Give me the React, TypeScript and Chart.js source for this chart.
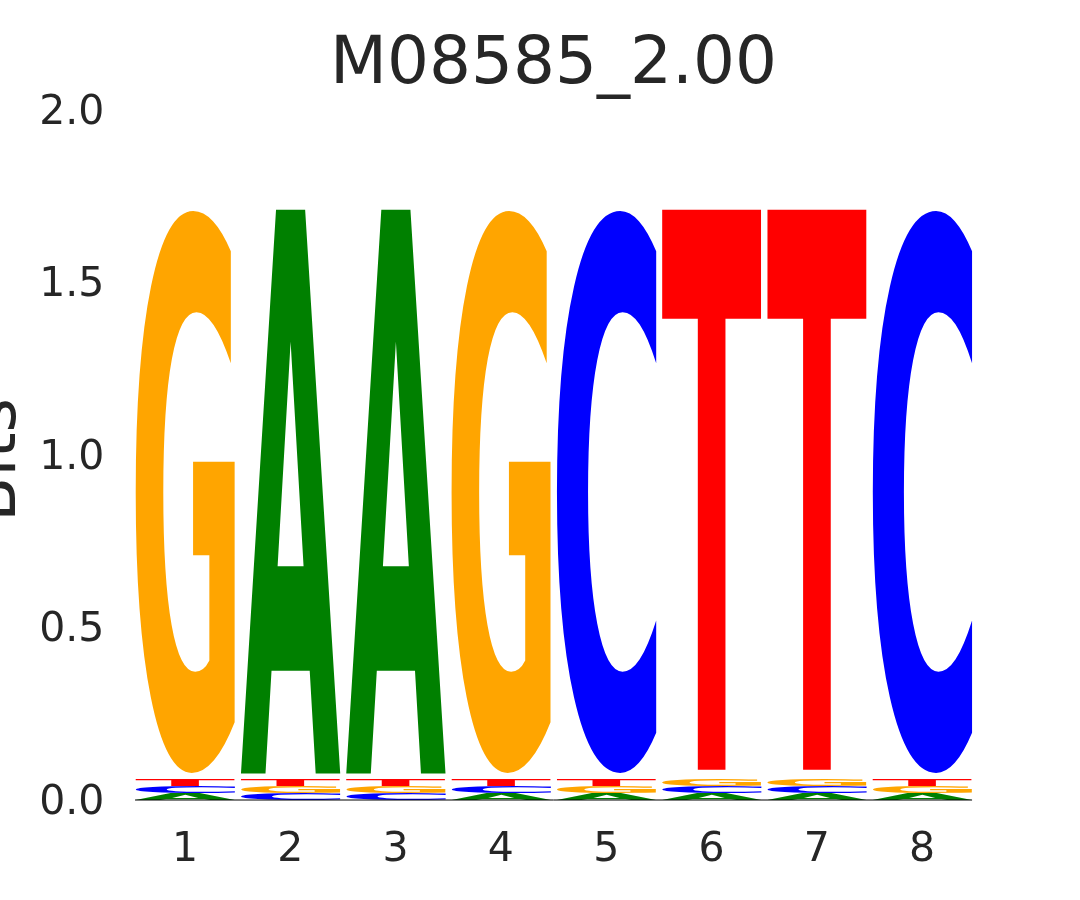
import React, { useEffect, useRef } from "react";
import { Chart, registerables } from "chart.js";

Chart.register(...registerables);

const positions = ["1", "2", "3", "4", "5", "6", "7", "8"];
const letters = ["A", "C", "G", "T"];
// heights in bits per letter at each position
const heightA = [0.019, 1.67, 1.67, 0.019, 0.019, 0.019, 0.019, 0.019];
const heightC = [0.020, 0.019, 0.019, 0.020, 1.67, 0.020, 0.020, 1.67];
const heightG = [1.67, 0.020, 0.020, 1.67, 0.020, 0.021, 0.021, 0.020];
const heightT = [0.021, 0.021, 0.021, 0.021, 0.021, 1.67, 1.67, 0.021];
const yTicks = [0, 0.5, 1.0, 1.5, 2.0];
const titleText = "M08585_2.00";
const yLabel = "Bits";

const letterColors: Record<string, string> = {
  A: "#008000",
  C: "#0000ff",
  G: "#ffa500",
  T: "#ff0000",
};

const FONT = '"DejaVu Sans", sans-serif';
const TEXT_COLOR = "#262626";

function buildDatasets() {
  const all = [heightA, heightC, heightG, heightT];
  const sorted = positions.map((_, i) =>
    letters
      .map((l, k) => ({ l, v: all[k][i] }))
      .sort((a, b) => a.v - b.v)
  );
  return [0, 1, 2, 3].map((r) => ({
    label: "rank" + r,
    data: sorted.map((s) => s[r].v),
    letters: sorted.map((s) => s[r].l),
    backgroundColor: "rgba(0,0,0,0)",
    borderWidth: 0,
    barPercentage: 0.95,
    categoryPercentage: 1.0,
  }));
}

const logoPlugin = {
  id: "logoPlugin",
  afterDatasetsDraw(chart: any) {
    const ctx = chart.ctx;
    const vpad = 0.02;
    chart.data.datasets.forEach((ds: any, di: number) => {
      const meta = chart.getDatasetMeta(di);
      meta.data.forEach((bar: any, i: number) => {
        const letter = ds.letters[i];
        const props = bar.getProps(["x", "y", "base", "width"], true);
        const top = Math.min(props.y, props.base);
        const bottom = Math.max(props.y, props.base);
        const h0 = bottom - top;
        const h = h0 * (1 - vpad);
        const y0 = top + (h0 * vpad) / 2;
        const w = props.width;
        const x0 = props.x - w / 2;
        if (h <= 0) return;
        ctx.save();
        ctx.font = "bold 200px " + FONT;
        ctx.textAlign = "left";
        ctx.textBaseline = "alphabetic";
        const m = ctx.measureText(letter);
        const inkW = m.actualBoundingBoxLeft + m.actualBoundingBoxRight;
        const inkH = m.actualBoundingBoxAscent + m.actualBoundingBoxDescent;
        ctx.translate(x0, y0);
        ctx.scale(w / inkW, h / inkH);
        ctx.fillStyle = letterColors[letter];
        ctx.fillText(letter, m.actualBoundingBoxLeft, m.actualBoundingBoxAscent);
        ctx.restore();
      });
    });
    // baseline
    const first = chart.getDatasetMeta(0).data[0];
    const last = chart.getDatasetMeta(0).data[positions.length - 1];
    const yScale = chart.scales.y;
    const yb = yScale.getPixelForValue(0);
    ctx.save();
    ctx.strokeStyle = "#000000";
    ctx.lineWidth = 1;
    ctx.beginPath();
    ctx.moveTo(first.x - first.width / 2, yb);
    ctx.lineTo(last.x + last.width / 2, yb);
    ctx.stroke();
    ctx.restore();
  },
  afterDraw(chart: any) {
    const ctx = chart.ctx;
    const area = chart.chartArea;
    ctx.save();
    ctx.fillStyle = TEXT_COLOR;
    ctx.font = "66px " + FONT;
    ctx.textAlign = "center";
    ctx.textBaseline = "alphabetic";
    ctx.fillText(titleText, (area.left + area.right) / 2, 83);
    ctx.translate(15, 460);
    ctx.rotate(-Math.PI / 2);
    ctx.fillText(yLabel, 0, 0);
    ctx.restore();
  },
};

export default function App() {
  const ref = useRef<HTMLCanvasElement | null>(null);
  useEffect(() => {
    if (!ref.current) return;
    const chart = new Chart(ref.current, {
      type: "bar",
      data: {
        labels: positions,
        datasets: buildDatasets() as any,
      },
      options: {
        animation: false,
        responsive: false,
        devicePixelRatio: 1,
        layout: { padding: { top: 110, right: 105.3, left: 0, bottom: 0 } },
        plugins: {
          legend: { display: false },
          title: { display: false },
          tooltip: { enabled: false },
        },
        scales: {
          x: {
            stacked: true,
            offset: true,
            grid: { display: false, drawTicks: false },
            border: { display: false },
            ticks: {
              color: TEXT_COLOR,
              font: { family: FONT, size: 41 },
              padding: 26,
              maxRotation: 0,
            },
            afterFit: (scale: any) => {
              scale.height = 100;
            },
          },
          y: {
            stacked: true,
            min: 0,
            max: 2,
            grid: { display: false, drawTicks: false },
            border: { display: false },
            afterBuildTicks: (scale: any) => {
              scale.ticks = yTicks.map((v) => ({ value: v }));
            },
            ticks: {
              color: TEXT_COLOR,
              font: { family: FONT, size: 41 },
              padding: 28,
              labelOffset: 3,
              callback: (v: any) => Number(v).toFixed(1),
            },
            afterFit: (scale: any) => {
              scale.width = 132.4;
            },
          },
        },
      },
      plugins: [logoPlugin],
    });
    return () => chart.destroy();
  }, []);
  return (
    <div style={{ position: "absolute", left: 0, top: 0, width: 1080, height: 900, background: "#ffffff" }}>
      <canvas ref={ref} width={1080} height={900} />
    </div>
  );
}
